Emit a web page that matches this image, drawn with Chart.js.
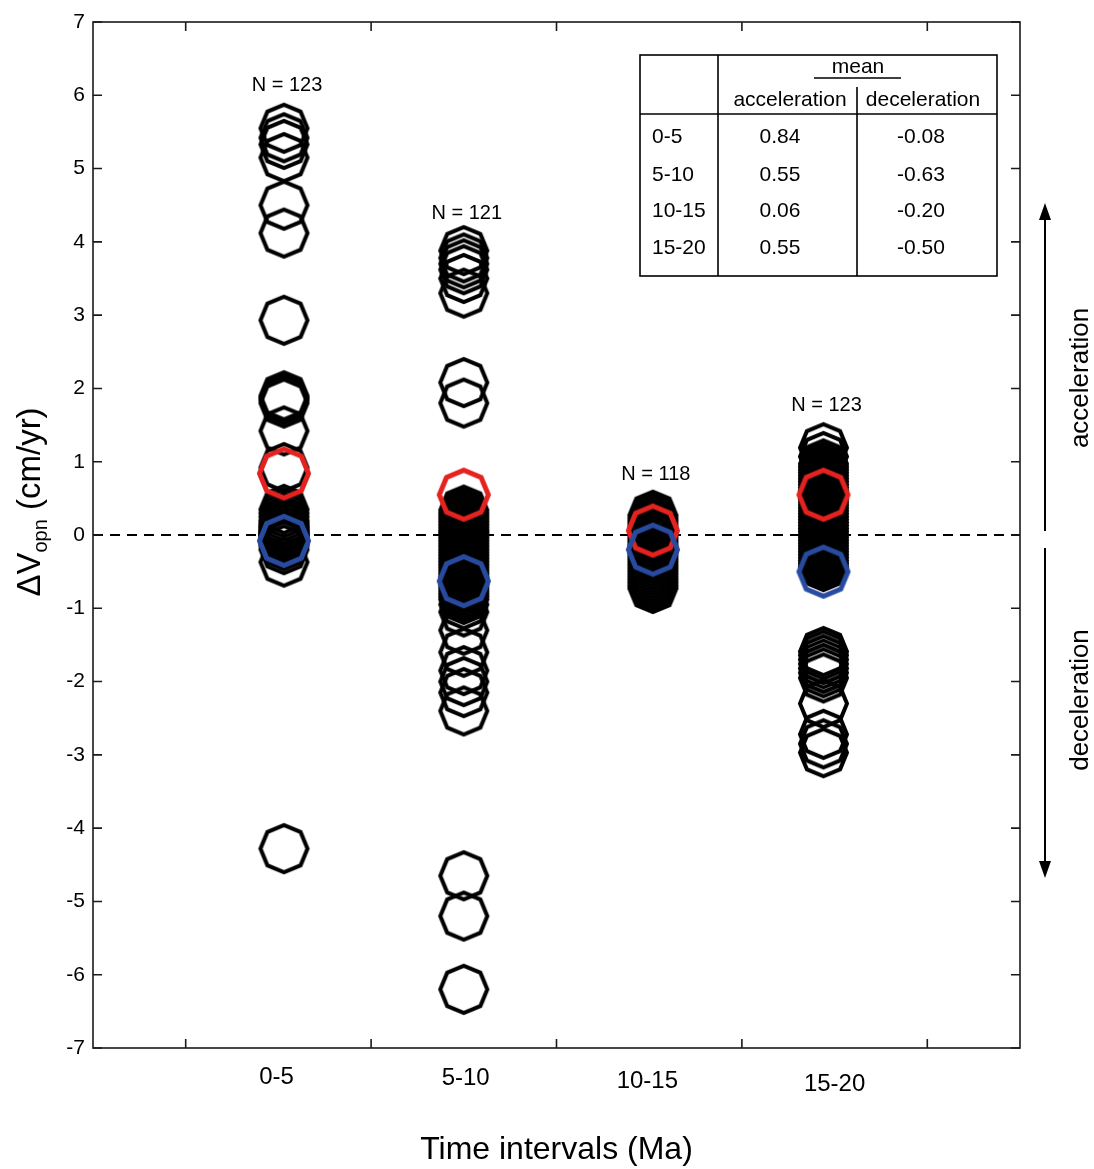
<!DOCTYPE html>
<html>
<head>
<meta charset="utf-8">
<script src="https://cdn.jsdelivr.net/npm/chart.js@4.4.1/dist/chart.umd.min.js"></script>
<style>
    body { margin: 0; background: #fff; }
    #wrap { width: 1094px; height: 1169px; position: relative; }
</style>
</head>
<body>
<div id="wrap"><canvas id="chart"></canvas></div>
<script>
// intervals (Ma) and where each column sits on the x scale
const intervals = ['0-5', '5-10', '10-15', '15-20'];
const intervalX = [1.03, 2.0, 3.02, 3.94];
const counts = [123, 121, 118, 123];

// dV_opn values (cm/yr)
const dv_0_5 = [5.55, 5.42, 5.33, 5.15, 4.5, 4.12, 2.93, 1.9, 1.87, 1.84, 1.8, 1.42, 0.92,
    0.35, 0.3, 0.25, 0.2, 0.17, 0.14, 0.12, 0.1, 0.08, 0.06, 0.05, 0.03, 0.02, 0.01, 0.0,
    -0.01, -0.03, -0.05, -0.07, -0.1, -0.12, -0.15, -0.2, -0.37, -4.28];
const dv_5_10 = [3.88, 3.78, 3.7, 3.62, 3.5, 3.3, 2.08, 1.8,
    0.34, 0.3, 0.26, 0.22, 0.18, 0.14, 0.1, 0.06, 0.03, 0.0, -0.04, -0.08, -0.12, -0.16,
    -0.2, -0.24, -0.28, -0.32, -0.36, -0.4, -0.44, -0.48, -0.52, -0.56, -0.6, -0.64,
    -0.68, -0.72, -0.76, -0.8, -0.84, -0.88, -0.95, -1.05, -1.3, -1.6, -1.85, -2.0,
    -2.15, -2.4, -4.65, -5.2, -6.2];
const dv_10_15 = [0.27, 0.23, 0.19, 0.15, 0.11, 0.07, 0.03, -0.01, -0.05, -0.09, -0.13,
    -0.17, -0.21, -0.25, -0.29, -0.33, -0.37, -0.41, -0.45, -0.49, -0.53, -0.57, -0.61,
    -0.65, -0.69, -0.73];
const dv_15_20 = [1.19, 1.07, 0.97, 0.93, 0.89, 0.85, 0.81, 0.77, 0.73, 0.69, 0.65, 0.61,
    0.57, 0.53, 0.49, 0.45, 0.41, 0.37, 0.33, 0.29, 0.25, 0.21, 0.17, 0.13, 0.09, 0.05,
    0.01, -0.03, -0.07, -0.11, -0.15, -0.19, -0.23, -0.27, -0.31, -0.35, -0.39, -0.43,
    -1.59, -1.64, -1.7, -1.76, -1.82, -1.88, -1.95, -2.3, -2.72, -2.85, -2.97];

// means (also shown in the table)
const meanAcc = [0.84, 0.55, 0.06, 0.55];
const meanDec = [-0.08, -0.63, -0.20, -0.50];

const FONT = 'Helvetica, Arial, "Liberation Sans", sans-serif';

function octagon(r, lw, color) {
    const size = Math.ceil(2 * r + lw + 4);
    const c = document.createElement('canvas');
    c.width = size; c.height = size;
    const g = c.getContext('2d');
    g.strokeStyle = color;
    g.lineWidth = lw;
    g.lineJoin = 'miter';
    g.beginPath();
    for (let k = 0; k < 8; k++) {
        const a = k * Math.PI / 4;
        const px = size / 2 + r * Math.cos(a);
        const py = size / 2 + r * Math.sin(a);
        if (k === 0) g.moveTo(px, py); else g.lineTo(px, py);
    }
    g.closePath();
    g.stroke();
    return c;
}

const allCols = [dv_0_5, dv_5_10, dv_10_15, dv_15_20];
const blackPts = [];
allCols.forEach((col, i) => col.forEach(v => blackPts.push({ x: intervalX[i], y: v })));
const accPts = meanAcc.map((v, i) => ({ x: intervalX[i], y: v }));
const decPts = meanDec.map((v, i) => ({ x: intervalX[i], y: v }));

const framePlugin = {
    id: 'frame',
    beforeDatasetsDraw(chart) {
        const { ctx, chartArea: a, scales: { y } } = chart;
        const y0 = y.getPixelForValue(0);
        ctx.save();
        ctx.strokeStyle = '#000';
        ctx.lineWidth = 2;
        ctx.setLineDash([10, 7]);
        ctx.beginPath();
        ctx.moveTo(a.left, y0);
        ctx.lineTo(a.right, y0);
        ctx.stroke();
        ctx.restore();
    },
    afterDraw(chart) {
        const { ctx, chartArea: a, scales: { x, y } } = chart;
        ctx.save();
        ctx.strokeStyle = '#1a1a1a';
        ctx.lineWidth = 1.6;
        ctx.strokeRect(a.left, a.top, a.right - a.left, a.bottom - a.top);

        // inward ticks on all four sides
        const tl = 9;
        ctx.beginPath();
        for (let v = -7; v <= 7; v++) {
            const py = y.getPixelForValue(v);
            ctx.moveTo(a.left, py); ctx.lineTo(a.left + tl, py);
            ctx.moveTo(a.right, py); ctx.lineTo(a.right - tl, py);
        }
        [0.5, 1.5, 2.5, 3.5, 4.5].forEach(v => {
            const px = x.getPixelForValue(v);
            ctx.moveTo(px, a.bottom); ctx.lineTo(px, a.bottom - tl);
            ctx.moveTo(px, a.top); ctx.lineTo(px, a.top + tl);
        });
        ctx.stroke();

        // category labels under the axis
        ctx.fillStyle = '#000';
        ctx.font = '24px ' + FONT;
        ctx.textAlign = 'center';
        ctx.textBaseline = 'middle';
        const labX = [0.99, 2.01, 2.99, 4.0];
        const labY = [1077, 1078, 1081, 1084];
        intervals.forEach((t, i) => ctx.fillText(t, x.getPixelForValue(labX[i]), labY[i]));

        // N = ... above each column
        ctx.font = '20px ' + FONT;
        const nY = [6.13, 4.39, 0.83, 1.77];
        counts.forEach((n, i) => {
            ctx.fillText('N = ' + n, x.getPixelForValue(intervalX[i]) + 3, y.getPixelForValue(nY[i]));
        });

        // y axis title with subscript
        ctx.save();
        ctx.translate(31, 502);
        ctx.rotate(-Math.PI / 2);
        ctx.textAlign = 'left';
        ctx.textBaseline = 'middle';
        const big = '33px ' + FONT, small = '20px ' + FONT;
        ctx.font = big; const w1 = ctx.measureText('\u0394V').width;
        ctx.font = small; const w2 = ctx.measureText('opn').width;
        ctx.font = big; const w3 = ctx.measureText(' (cm/yr)').width;
        let sx = -(w1 + w2 + w3) / 2;
        ctx.font = big; ctx.fillText('\u0394V', sx, 0); sx += w1;
        ctx.font = small; ctx.fillText('opn', sx, 10); sx += w2;
        ctx.font = big; ctx.fillText(' (cm/yr)', sx, 0);
        ctx.restore();

        // acceleration / deceleration arrows on the right
        ctx.lineWidth = 2;
        ctx.strokeStyle = '#000';
        const ax = 1045;
        ctx.beginPath();
        ctx.moveTo(ax, 531); ctx.lineTo(ax, 215);
        ctx.moveTo(ax, 548); ctx.lineTo(ax, 866);
        ctx.stroke();
        ctx.beginPath();
        ctx.moveTo(ax, 203); ctx.lineTo(ax - 6, 220); ctx.lineTo(ax + 6, 220); ctx.closePath();
        ctx.moveTo(ax, 878); ctx.lineTo(ax - 6, 861); ctx.lineTo(ax + 6, 861); ctx.closePath();
        ctx.fill();
        ctx.font = '26px ' + FONT;
        ctx.textAlign = 'center';
        [['acceleration', 378], ['deceleration', 700]].forEach(([t, cy]) => {
            ctx.save();
            ctx.translate(1081, cy);
            ctx.rotate(-Math.PI / 2);
            ctx.fillText(t, 0, 0);
            ctx.restore();
        });

        // table of means
        const L = 640, R = 997, T = 55, B = 276, c1 = 718, c2 = 857, hy = 114;
        ctx.fillStyle = '#fff';
        ctx.fillRect(L, T, R - L, B - T);
        ctx.lineWidth = 1.6;
        ctx.strokeRect(L, T, R - L, B - T);
        ctx.beginPath();
        ctx.moveTo(c1, T); ctx.lineTo(c1, B);
        ctx.moveTo(c2, 87); ctx.lineTo(c2, B);
        ctx.moveTo(L, hy); ctx.lineTo(R, hy);
        ctx.moveTo(814, 78); ctx.lineTo(901, 78);
        ctx.stroke();
        ctx.fillStyle = '#000';
        ctx.font = '21px ' + FONT;
        ctx.textAlign = 'center';
        ctx.fillText('mean', 858, 67);
        ctx.fillText('acceleration', 790, 100);
        ctx.fillText('deceleration', 923, 100);
        const rowY = [137, 175, 211, 248];
        intervals.forEach((t, i) => {
            ctx.textAlign = 'left';
            ctx.fillText(t, 652, rowY[i]);
            ctx.textAlign = 'center';
            ctx.fillText(meanAcc[i].toFixed(2), 780, rowY[i]);
            ctx.fillText(meanDec[i].toFixed(2), 921, rowY[i]);
        });
        ctx.restore();
    }
};

new Chart(document.getElementById('chart'), {
    type: 'scatter',
    data: {
        datasets: [
            { label: 'deceleration mean', data: decPts, order: 1,
              pointStyle: octagon(24.5, 5, 'rgb(40,75,160)') },
            { label: 'acceleration mean', data: accPts, order: 2,
              pointStyle: octagon(24.5, 5, 'rgb(228,35,32)') },
            { label: 'dVopn', data: blackPts, order: 3,
              pointStyle: octagon(23.5, 4, '#000') }
        ]
    },
    options: {
        responsive: true,
        maintainAspectRatio: false,
        animation: false,
        layout: { padding: { top: 22, right: 74, left: 0, bottom: 0 } },
        plugins: { legend: { display: false }, tooltip: { enabled: false } },
        scales: {
            x: {
                type: 'linear', min: 0, max: 5,
                grid: { display: false },
                border: { display: false },
                ticks: { display: false },
                title: { display: true, text: 'Time intervals (Ma)', color: '#000',
                         font: { family: FONT, size: 32 }, padding: { top: 0, bottom: 0 } },
                afterFit(scale) { scale.height = 121; }
            },
            y: {
                min: -7, max: 7,
                grid: { display: false, drawTicks: false },
                border: { display: false },
                ticks: { stepSize: 1, color: '#000', padding: 8,
                         font: { family: FONT, size: 21 },
                         callback: v => String(v) },
                afterFit(scale) { scale.width = 93; }
            }
        }
    },
    plugins: [framePlugin]
});
</script>
</body>
</html>
